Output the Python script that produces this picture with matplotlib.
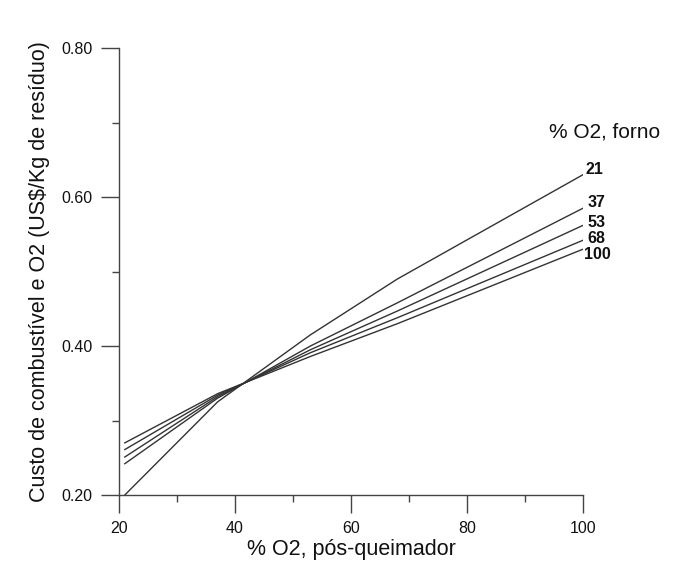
import matplotlib
matplotlib.use("Agg")
import matplotlib.pyplot as plt
from matplotlib.ticker import MultipleLocator, FormatStrFormatter

# Data
x_pos = [21, 37, 53, 68, 100]
series_names = ["21", "37", "53", "68", "100"]
cost_21 = [0.200, 0.325, 0.415, 0.490, 0.630]
cost_37 = [0.242, 0.330, 0.400, 0.458, 0.585]
cost_53 = [0.251, 0.332, 0.395, 0.447, 0.562]
cost_68 = [0.261, 0.334, 0.391, 0.438, 0.542]
cost_100 = [0.270, 0.336, 0.386, 0.430, 0.530]
series = [cost_21, cost_37, cost_53, cost_68, cost_100]

x_ticks = [20, 40, 60, 80, 100]
y_ticks = [0.20, 0.40, 0.60, 0.80]

# label offsets (points) from the line end
label_offsets = [(2, 4), (3, 4), (3, 2), (3, 1), (1, -4)]

plt.rcParams['font.family'] = ['Liberation Sans', 'DejaVu Sans']

fig = plt.figure(figsize=(6.75, 5.65), dpi=100)
ax = fig.add_axes([0.1763, 0.1239, 0.6874, 0.791])

line_color = '#333333'
for name, vals, off in zip(series_names, series, label_offsets):
    ax.plot(x_pos, vals, color=line_color, lw=1.0)
    ax.annotate(name, xy=(x_pos[-1], vals[-1]), xytext=off,
                textcoords='offset points', fontsize=11.5, fontweight='bold',
                ha='left', va='center',
                color='#111111', annotation_clip=False)

ax.text(1.047, 0.812, "% O2, forno", transform=ax.transAxes, fontsize=15,
        ha='center', va='center', color='#111111')

ax.set_xlim(20, 100)
ax.set_ylim(0.20, 0.80)
ax.set_xticks(x_ticks)
ax.set_yticks(y_ticks)
ax.xaxis.set_minor_locator(MultipleLocator(10))
ax.yaxis.set_minor_locator(MultipleLocator(0.10))
ax.yaxis.set_major_formatter(FormatStrFormatter('%.2f'))

for s in ['top', 'right']:
    ax.spines[s].set_visible(False)
for s in ['left', 'bottom']:
    ax.spines[s].set_color('#444444')
    ax.spines[s].set_linewidth(1.0)

ax.tick_params(which='major', direction='out', length=13, width=1.0,
               color='#444444', labelsize=11.5, labelcolor='#111111', pad=6)
ax.tick_params(which='minor', direction='out', length=5, width=1.0,
               color='#444444')

ax.set_xlabel("% O2, pós-queimador", fontsize=15.5, color='#111111', labelpad=2)
ax.set_ylabel("Custo de combustível e O2 (US$/Kg de resíduo)", fontsize=15.5,
              color='#111111', labelpad=8)

fig.savefig("out.png", dpi=100, facecolor='white')
